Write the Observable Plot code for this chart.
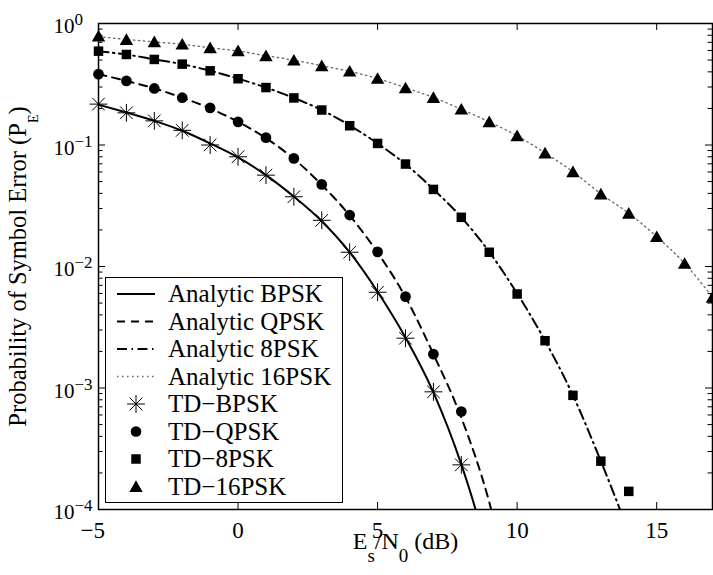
<!DOCTYPE html>
<html>
<head>
<meta charset="utf-8">
<script src="https://cdn.jsdelivr.net/npm/d3@7"></script>
<script src="https://cdn.jsdelivr.net/npm/@observablehq/plot@0.6"></script>
<style>
  html, body { margin: 0; padding: 0; background: #fff; }
  svg text { white-space: pre; }
</style>
</head>
<body>
<div id="chart"></div>
<script>
// ---------------- data ----------------
const xDomain = [-5, 17];
const yDomain = [1e-4, 1];
const xTicks = [-5, 0, 5, 10, 15];
const yTicks = [1, 0.1, 0.01, 0.001, 0.0001];
const xLabel = "E_{s}/N_{0} (dB)";
const yLabel = "Probability of Symbol Error (P_{E})";
const legendLabels = ["Analytic BPSK", "Analytic QPSK", "Analytic 8PSK", "Analytic 16PSK",
                      "TD\u2212BPSK", "TD\u2212QPSK", "TD\u22128PSK", "TD\u221216PSK"];

// analytic curves
const anBpskDb = [-5, -4, -3, -2, -1, 0, 1, 2, 3, 4, 5, 6, 7, 8, 8.5, 9];
const anBpskPe = [0.215, 0.185, 0.158, 0.131, 0.103, 0.079, 0.0565, 0.0376, 0.0236, 0.0131, 0.0062, 0.0026, 0.00092, 0.000235, 0.000102, 0.000038];
const anQpskDb = [-5, -4, -3, -2, -1, 0, 1, 2, 3, 4, 5, 6, 7, 8, 9, 9.5];
const anQpskPe = [0.383, 0.337, 0.292, 0.245, 0.200, 0.155, 0.114, 0.077, 0.047, 0.0263, 0.0130, 0.0056, 0.0019, 0.00057, 0.000115, 0.00004];
const an8pskDb = [-5, -4, -3, -2, -1, 0, 1, 2, 3, 4, 5, 6, 7, 8, 9, 10, 11, 12, 13, 14];
const an8pskPe = [0.59, 0.555, 0.507, 0.462, 0.408, 0.352, 0.297, 0.244, 0.194, 0.145, 0.103, 0.0695, 0.0432, 0.0254, 0.0132, 0.0060, 0.00245, 0.00087, 0.00025, 0.000065];
const an16pskDb = [-5, -4, -3, -2, -1, 0, 1, 2, 3, 4, 5, 6, 7, 8, 9, 10, 11, 12, 13, 14, 15, 16, 17];
const an16pskPe = [0.78, 0.74, 0.706, 0.674, 0.632, 0.594, 0.543, 0.499, 0.449, 0.404, 0.352, 0.296, 0.246, 0.197, 0.155, 0.119, 0.086, 0.0602, 0.0396, 0.0274, 0.0176, 0.0106, 0.0056];

// time-domain simulation markers
const tdBpskDb = [-5, -4, -3, -2, -1, 0, 1, 2, 3, 4, 5, 6, 7, 8];
const tdBpskPe = [0.217, 0.184, 0.158, 0.132, 0.100, 0.080, 0.0565, 0.0375, 0.024, 0.0131, 0.00614, 0.00257, 0.00093, 0.000233];
const tdQpskDb = [-5, -4, -3, -2, -1, 0, 1, 2, 3, 4, 5, 6, 7, 8];
const tdQpskPe = [0.383, 0.337, 0.292, 0.245, 0.202, 0.155, 0.115, 0.0776, 0.0474, 0.0265, 0.0132, 0.00565, 0.0019, 0.00064];
const td8pskDb = [-5, -4, -3, -2, -1, 0, 1, 2, 3, 4, 5, 6, 7, 8, 9, 10, 11, 12, 13, 14];
const td8pskPe = [0.592, 0.556, 0.506, 0.463, 0.408, 0.351, 0.297, 0.244, 0.194, 0.144, 0.103, 0.0697, 0.0431, 0.0254, 0.0131, 0.00594, 0.00245, 0.00087, 0.00025, 0.000141];
const td16pskDb = [-5, -4, -3, -2, -1, 0, 1, 2, 3, 4, 5, 6, 7, 8, 9, 10, 11, 12, 13, 14, 15, 16, 17];
const td16pskPe = [0.787, 0.738, 0.706, 0.676, 0.63, 0.595, 0.542, 0.499, 0.448, 0.405, 0.353, 0.295, 0.246, 0.197, 0.155, 0.119, 0.0858, 0.0602, 0.0395, 0.0274, 0.0176, 0.0106, 0.00558];

// ---------------- layout / style ----------------
const FONT = "'Liberation Serif', 'Times New Roman', Times, serif";
const W = 713, H = 575;
const M = {left: 98, right: 1, top: 23, bottom: 66};
const PW = W - M.left - M.right, PH = H - M.top - M.bottom;

const rows = (xs, ys) => xs.map((x, i) => ({x, y: ys[i]}));
const minorTicks = d3.scaleLog().domain(yDomain).ticks().filter(d => !yTicks.some(t => Math.abs(t - d) / t < 1e-9));
const fmtExp = d => { const e = Math.round(Math.log10(d)); return e < 0 ? "\u2212" + (-e) : String(e); };

const styles = {
  solid:   {stroke: "black", strokeWidth: 2},
  dashed:  {stroke: "black", strokeWidth: 2, strokeDasharray: "8,6"},
  dashdot: {stroke: "black", strokeWidth: 2, strokeDasharray: "10,4.5,1.5,4.5"},
  dotted:  {stroke: "#666", strokeWidth: 1.3, strokeDasharray: "1.5,3.5"}
};
const sym = {
  plus:  {symbol: "plus", r: 5.8, fill: "none", stroke: "black", strokeWidth: 1},
  times: {symbol: "times", r: 5.8, fill: "none", stroke: "black", strokeWidth: 1},
  circle: {symbol: "circle", r: 5.35, fill: "black", stroke: "none"},
  square: {symbol: "square", r: 5.36, fill: "black", stroke: "none"},
  triangle: {symbol: "triangle", r: 5.0, fill: "black", stroke: "none"}
};

const lineMark = (xs, ys, st) => Plot.line(rows(xs, ys), {x: "x", y: "y", curve: "monotone-x", clip: true, ...st});
const dotMark = (xs, ys, s, extra = {}) => Plot.dot(rows(xs, ys), {x: "x", y: "y", ...s, ...extra});

const svg = Plot.plot({
  width: W, height: H,
  marginLeft: M.left, marginRight: M.right, marginTop: M.top, marginBottom: M.bottom,
  style: {background: "white", fontFamily: FONT, color: "black"},
  x: {domain: xDomain, axis: null},
  y: {type: "log", domain: yDomain, axis: null},
  marks: [
    lineMark(anBpskDb, anBpskPe, styles.solid),
    lineMark(anQpskDb, anQpskPe, styles.dashed),
    lineMark(an8pskDb, an8pskPe, styles.dashdot),
    lineMark(an16pskDb, an16pskPe, styles.dotted),
    dotMark(tdBpskDb, tdBpskPe, sym.plus),
    dotMark(tdBpskDb, tdBpskPe, sym.times),
    dotMark(tdQpskDb, tdQpskPe, sym.circle),
    dotMark(td8pskDb, td8pskPe, sym.square),
    dotMark(td16pskDb, td16pskPe, sym.triangle, {dy: 1.5}),
    // inward ticks
    Plot.tickY(yTicks, {y: d => d, insetRight: PW - 7, stroke: "black", strokeWidth: 1}),
    Plot.tickY(minorTicks, {y: d => d, insetRight: PW - 4.5, stroke: "black", strokeWidth: 1}),
    Plot.tickY(yTicks, {y: d => d, insetLeft: PW - 7, stroke: "black", strokeWidth: 1}),
    Plot.tickY(minorTicks, {y: d => d, insetLeft: PW - 4.5, stroke: "black", strokeWidth: 1}),
    Plot.tickX(xTicks, {x: d => d, insetTop: PH - 7, stroke: "black", strokeWidth: 1}),
    Plot.tickX(xTicks, {x: d => d, insetBottom: PH - 7, stroke: "black", strokeWidth: 1}),
    Plot.frame({stroke: "black", strokeWidth: 1.5}),
    // tick labels
    Plot.text(xTicks.filter(d => d >= 0), {x: d => d, text: d => String(d), frameAnchor: "bottom", lineAnchor: "bottom", textAnchor: "middle", dy: 28, fontSize: 23}),
    Plot.text(xTicks.filter(d => d < 0), {x: d => d, text: d => "\u2212" + (-d), frameAnchor: "bottom", lineAnchor: "bottom", textAnchor: "end", dx: 6.5, dy: 28, fontSize: 23}),
    Plot.text(yTicks, {y: d => d, text: d => `10^{${fmtExp(d)}}`, frameAnchor: "left", textAnchor: "start", lineAnchor: "bottom", dx: -45, dy: 9.5, fontSize: 21}),
    // axis labels
    Plot.text([xLabel], {text: d => d, frameAnchor: "bottom", lineAnchor: "bottom", textAnchor: "middle", dy: 39, fontSize: 24}),
    Plot.text([yLabel], {text: d => d, frameAnchor: "left", rotate: -90, lineAnchor: "bottom", textAnchor: "middle", dx: -72.5, fontSize: 24.5})
  ]
});

// ---------- rich text: super/subscripts into tspans ----------
d3.select(svg).selectAll("text").each(function () {
  const s = this.textContent;
  let cfg = null;
  if (s.startsWith("10^")) cfg = {size: 17, shift: -8};
  else if (s.startsWith("E_")) cfg = {size: 19, shift: 13};
  else if (s.startsWith("Probability")) cfg = {size: 14, shift: 12};
  if (!cfg) return;
  const re = /([\^_])\{([^}]*)\}/g;
  let last = 0, m;
  const pieces = [];
  while ((m = re.exec(s))) {
    if (m.index > last) pieces.push({t: s.slice(last, m.index)});
    pieces.push({t: m[2], script: true});
    last = re.lastIndex;
  }
  if (last < s.length) pieces.push({t: s.slice(last)});
  this.textContent = "";
  let offset = 0;
  for (const p of pieces) {
    const ts = document.createElementNS("http://www.w3.org/2000/svg", "tspan");
    const target = p.script ? cfg.shift : 0;
    if (target !== offset) ts.setAttribute("dy", target - offset);
    offset = target;
    if (p.script) ts.setAttribute("font-size", cfg.size);
    ts.textContent = p.t;
    this.appendChild(ts);
  }
});

// ---------------- legend ----------------
const L = d3.select(svg).append("g").attr("font-family", FONT).attr("font-size", 25)
  .attr("fill", "black").attr("text-anchor", "start");
L.append("rect").attr("x", 105.5).attr("y", 277.5).attr("width", 237).attr("height", 225)
  .attr("fill", "white").attr("stroke", "black").attr("stroke-width", 1);
const legendKinds = [
  {line: styles.solid}, {line: styles.dashed}, {line: styles.dashdot}, {line: styles.dotted},
  {syms: [sym.plus, sym.times]}, {syms: [sym.circle]}, {syms: [sym.square]}, {syms: [sym.triangle]}
];
const d3Sym = {plus: d3.symbolPlus, times: d3.symbolTimes, circle: d3.symbolCircle, square: d3.symbolSquare, triangle: d3.symbolTriangle};
legendLabels.forEach((label, i) => {
  const cy = 294 + 27.5 * i;
  const k = legendKinds[i];
  if (k.line) {
    L.append("line").attr("x1", 117).attr("x2", 155).attr("y1", cy).attr("y2", cy)
      .attr("stroke", k.line.stroke).attr("stroke-width", k.line.strokeWidth)
      .attr("stroke-dasharray", k.line.strokeDasharray || null);
  }
  if (k.syms) {
    for (const s of k.syms) {
      L.append("path").attr("transform", `translate(136,${cy + (s.symbol === "triangle" ? 1.5 : 0)})`)
        .attr("d", d3.symbol(d3Sym[s.symbol], Math.PI * s.r * s.r)())
        .attr("fill", s.fill).attr("stroke", s.stroke === "none" ? null : s.stroke)
        .attr("stroke-width", s.strokeWidth || null);
    }
  }
  L.append("text").attr("x", 168).attr("y", cy + 8.3).text(label);
});

document.getElementById("chart").appendChild(svg);
</script>
</body>
</html>
